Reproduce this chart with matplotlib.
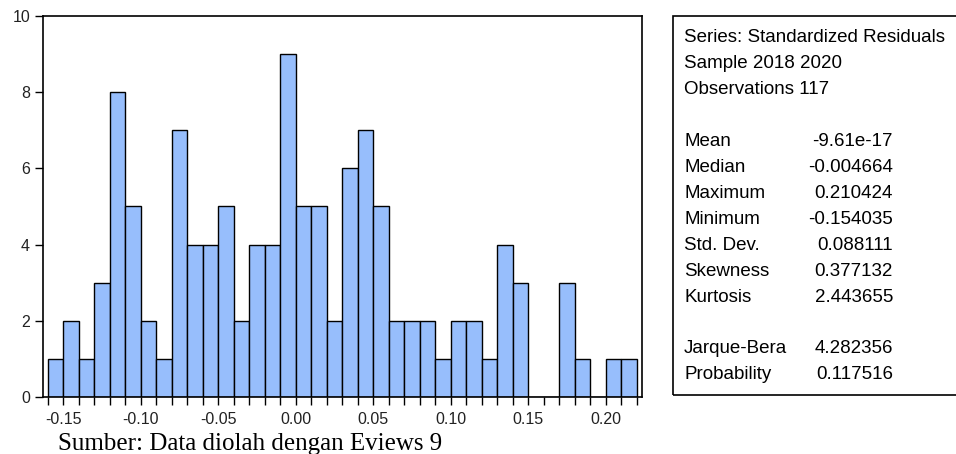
#### Workspace setup ####
import numpy as np
import matplotlib
matplotlib.use("Agg")
import matplotlib.pyplot as plt

plt.rcParams["font.family"] = ["Liberation Sans", "DejaVu Sans"]
plt.rcParams["axes.unicode_minus"] = False

# 1) Histogram data: bins of width 0.01, starting at -0.16
bin_width = 0.01
bin_left = np.round(np.arange(-0.16, 0.215, bin_width), 2)
counts = [1, 2, 1, 3, 8, 5, 2, 1, 7, 4, 4, 5, 2, 4, 4, 9, 5, 5, 2,
          6, 7, 5, 2, 2, 2, 1, 2, 2, 1, 4, 3, 0, 0, 3, 1, 0, 1, 1]

# 2) Summary statistics (EViews output)
header_lines = ["Series: Standardized Residuals", "Sample 2018 2020",
                "Observations 117"]
stat_names = ["Mean", "Median", "Maximum", "Minimum", "Std. Dev.",
              "Skewness", "Kurtosis", None, "Jarque-Bera", "Probability"]
stat_values = ["-9.61e-17", "-0.004664", "0.210424", "-0.154035", "0.088111",
               "0.377132", "2.443655", None, "4.282356", "0.117516"]

x_ticks = [-0.15, -0.10, -0.05, 0.00, 0.05, 0.10, 0.15, 0.20]
y_ticks = [0, 2, 4, 6, 8, 10]

# 3) Plot
fig = plt.figure(figsize=(9.56, 4.54), dpi=100)
ax = fig.add_axes([0.0453, 0.1256, 0.6259, 0.8392])

ax.bar(bin_left, counts, width=bin_width, align="edge",
       color="#97BEFC", edgecolor="black", linewidth=1.0)

ax.set_xlim(-0.163, 0.2232)
ax.set_ylim(0, 10)
ax.set_xticks(x_ticks)
ax.set_xticklabels([f"{t:.2f}" for t in x_ticks])
ax.set_xticks(np.round(np.arange(-0.16, 0.225, 0.01), 2), minor=True)
ax.set_yticks(y_ticks)
ax.tick_params(axis="both", which="both", direction="out", length=5.5,
               width=1.0, labelsize=11.5, colors="black", labelcolor="#222222")
ax.tick_params(axis="x", which="major", pad=5)
ax.tick_params(axis="y", which="major", pad=4)
for sp in ax.spines.values():
    sp.set_linewidth(1.2)

# stats box on the right
box = plt.Rectangle((672.5 / 956, 1 - 395 / 454), 0.32, (395 - 16) / 454,
                    transform=fig.transFigure, fill=False,
                    edgecolor="black", linewidth=1.2)
fig.patches.append(box)

y0 = 38
step = 25.9
for i, line in enumerate(header_lines):
    fig.text(684 / 956, 1 - (y0 + i * step) / 454, line, fontsize=13.5,
             va="center", ha="left")
for i, (name, val) in enumerate(zip(stat_names, stat_values)):
    if name is None:
        continue
    y = y0 + (i + 4) * step
    fig.text(684 / 956, 1 - y / 454, name, fontsize=13.5, va="center", ha="left")
    fig.text(893 / 956, 1 - y / 454, val, fontsize=13.5, va="center", ha="right")

fig.text(58 / 956, 1 - 450 / 454, "Sumber: Data diolah dengan Eviews 9",
         fontsize=18, family="Liberation Serif", va="baseline", ha="left")

plt.savefig("out.png", dpi=100)
